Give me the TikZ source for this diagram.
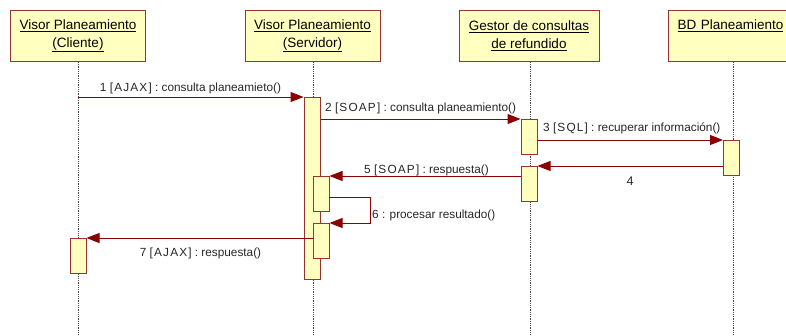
\documentclass[tikz,border=0pt]{standalone}
\usepackage{fontspec}
\setmainfont{Liberation Sans}
\usetikzlibrary{arrows.meta}
\definecolor{lnred}{HTML}{8B0000}
\definecolor{bxred}{HTML}{993333}
\definecolor{bxfill}{HTML}{FFFFBF}
\newcommand\spc[1]{{\addfontfeature{LetterSpace=10}#1}}
\tikzset{
  hdr/.style={draw=bxred, line width=1pt, fill=bxfill, minimum width=135pt, minimum height=51pt,
    inner sep=0pt, align=center, font=\fontsize{13.5}{18}\selectfont, anchor=north},
  act/.style={draw=bxred, line width=1pt, fill=bxfill, minimum width=16pt, inner sep=0pt, anchor=north},
  life/.style={densely dotted, line width=0.8pt, black!70},
  msg/.style={draw=lnred, line width=1pt, -{Triangle[length=13pt,width=10pt]}},
  lbl/.style={font=\fontsize{11.8}{13}\selectfont, inner sep=0pt, text=black!85}
}
\begin{document}
\begin{tikzpicture}[x=1pt,y=-1pt]
\useasboundingbox (0,0) rectangle (786,335);
\clip (0,0) rectangle (786,335);
% headers
\node[hdr] (h1) at (78,10) {\underline{Visor Planeamiento}\\\underline{(Cliente)}};
\node[hdr] (h2) at (312.5,10) {\underline{Visor Planeamiento}\\\underline{(Servidor)}};
\node[hdr, minimum width=140pt] (h3) at (529,10) {\underline{Gestor de consultas}\\\underline{de refundido}};
\node[hdr, minimum width=130pt, anchor=north west, align=left, text width=120pt] (h4) at (668,10) {\hspace*{4pt}\underline{BD Planeamiento}\\\strut};
% lifeline ends
\coordinate (e1) at (78,335);
\coordinate (e2) at (313,335);
\coordinate (e3) at (530,335);
\coordinate (e4) at (733,335);
\draw[life] (h1.south) -- (e1);
\draw[life] (h2.south -| e2) -- (e2);
\draw[life] (h3.south -| e3) -- (e3);
\draw[life] (h4.south -| e4) -- (e4);
% activations
\node[act, minimum height=182pt] (aS) at (312,97) {};
\node[act, minimum height=35pt] (aC) at (78,238) {};
\node[act, minimum height=35pt] (aS1) at (321,176) {};
\node[act, minimum height=35pt] (aS2) at (321,223) {};
\node[act, minimum height=35pt] (aG1) at (529,119) {};
\node[act, minimum height=35pt] (aG2) at (529,166) {};
\node[act, minimum height=35pt] (aB) at (731.5,140) {};
% messages
\coordinate (m1s) at (78,97);
\draw[msg] (m1s) -- (aS.north west);
\draw[msg] (aS.east |- aG1.north) -- (aG1.north west);
\draw[msg] (aG1.east |- aB.north) -- (aB.north west);
\draw[msg] (aB.west |- aG2.north) -- (aG2.north east);
\draw[msg] (aG2.west |- aS1.north) -- (aS1.north east);
\coordinate (m6s) at (329,197);
\coordinate (m6c) at (370,197);
\draw[msg] (m6s) -- (m6c) |- (aS2.north east);
\draw[msg] (aS2.west |- aC.north) -- (aC.north east);
% labels
\node[lbl] (t1) at (190.5,88) {1 \spc{[AJAX]} : consulta planeamieto()};
\node[lbl, anchor=west] (t2) at (325,108) {2 \spc{[SOAP]} : consulta planeamiento()};
\node[lbl, anchor=west] (t3) at (543,128) {3 \spc{[SQL]} : recuperar información()};
\node[lbl, font=\fontsize{12.5}{14}\selectfont] (t4) at (630,181) {4};
\node[lbl, anchor=west] (t5) at (364,170) {5 \spc{[SOAP]} : respuesta()};
\node[lbl, anchor=west] (t6) at (372,215) {6 : procesar resultado()};
\node[lbl] (t7) at (200.5,253) {7 \spc{[AJAX]} : respuesta()};
\end{tikzpicture}
\end{document}
